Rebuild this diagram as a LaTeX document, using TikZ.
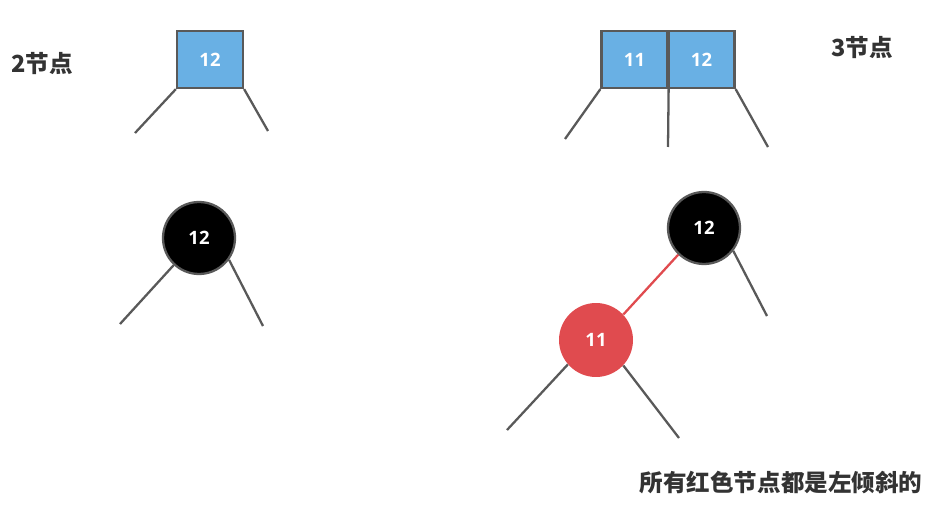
\documentclass[tikz,border=0pt]{standalone}
\usepackage{fontspec}
\setmainfont{Open Sans}
\newfontfamily\cjk{Noto Sans CJK SC}
\definecolor{edge}{HTML}{595959}
\definecolor{keyblue}{HTML}{69B0E4}
\definecolor{redlink}{HTML}{E04B4F}
\definecolor{ink}{HTML}{333333}

\begin{document}
\begin{tikzpicture}[x=0.02cm,y=-0.02cm,
  key/.style={draw=edge,fill=keyblue,line width=1.3pt,minimum width=1.32cm,
    minimum height=1.14cm,inner sep=0pt,text=white,
    font=\bfseries\fontsize{10.5}{12}\selectfont},
  blacknode/.style={circle,draw=edge,fill=black,line width=1.3pt,
    minimum size=1.44cm,inner sep=0pt,text=white,
    font=\bfseries\fontsize{10.5}{12}\selectfont},
  rednode/.style={circle,fill=redlink,minimum size=1.48cm,inner sep=0pt,
    text=white,font=\bfseries\fontsize{10.5}{12}\selectfont},
  link/.style={draw=edge,line width=1.3pt},
  title/.style={text=ink,font=\cjk\bfseries\fontsize{13.4}{16}\selectfont}]
  \useasboundingbox (0,0) rectangle (936,506);

  % 2-node
  \node[title] (t2) at (42,64) {2节点};
  \node[key] (a12) at (210,59.5) {12};
  \coordinate (a12l) at (135,133);
  \coordinate (a12r) at (268,131);
  \draw[link] (a12.south west) -- (a12l);
  \draw[link] (a12.south east) -- (a12r);

  % 3-node
  \node[title] (t3) at (862,48) {3节点};
  \node[key] (b11) at (634.5,59.5) {11};
  \node[key] (b12) at (701.5,59.5) {12};
  \coordinate (b11l) at (565,139);
  \coordinate (b11m) at (668,147);
  \coordinate (b12r) at (768,147);
  \draw[link] (b11.south west) -- (b11l);
  \draw[link] (b11.south east) -- (b11m);
  \draw[link] (b12.south east) -- (b12r);

  % black node for the 2-node
  \node[blacknode] (c12) at (199,238) {12};
  \coordinate (c12l) at (120,324);
  \coordinate (c12r) at (263,326);
  \draw[link] (c12.227) -- (c12l);
  \draw[link] (c12.324) -- (c12r);

  % black + red for the 3-node
  \node[blacknode] (d12) at (704,228) {12};
  \node[rednode] (d11) at (596,340) {11};
  \coordinate (d12r) at (767,316);
  \coordinate (d11l) at (507,430);
  \coordinate (d11r) at (679,438);
  \draw[redlink,line width=1.3pt] (d12.226) -- (d11.43);
  \draw[link] (d12.322) -- (d12r);
  \draw[link] (d11.221) -- (d11l);
  \draw[link] (d11.317) -- (d11r);

  \node[title] (note) at (781,483) {所有红色节点都是左倾斜的};
\end{tikzpicture}
\end{document}
